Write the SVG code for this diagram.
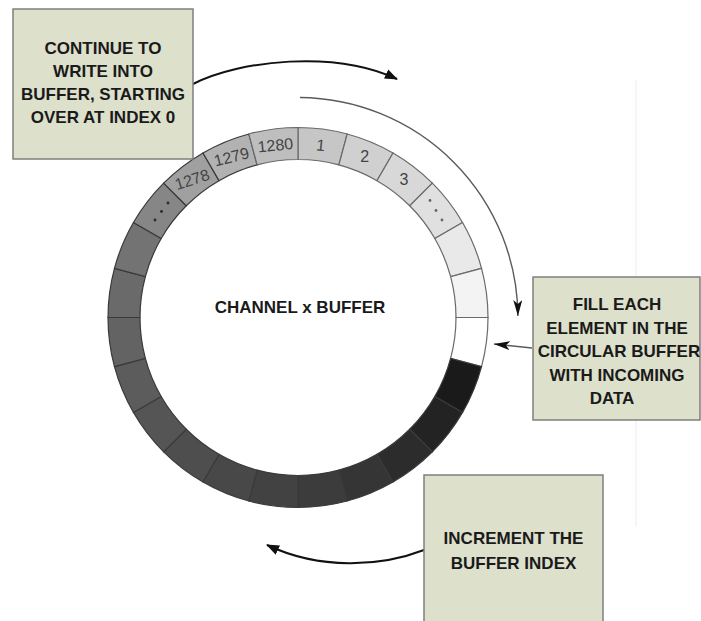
<svg xmlns="http://www.w3.org/2000/svg" width="701" height="621" viewBox="0 0 701 621">
<style>
.box{fill:#dde0cb;stroke:#7f7f7f;stroke-width:1.5}
.lbl{font-family:"Liberation Sans",Arial,sans-serif;font-weight:bold;font-size:17px;fill:#1a1a1a;text-anchor:middle}
.num{font-family:"Liberation Sans",Arial,sans-serif;font-size:16px;fill:#444;text-anchor:middle}
.seg{stroke:#3a3a3a;stroke-width:1.2}
.segl{stroke:#6a6a6a;stroke-width:1.2}
.blk{fill:none;stroke:#111;stroke-width:2}
.gry{fill:none;stroke:#5a5a5a;stroke-width:1.4}
</style>
<defs>
<marker id="tri" markerUnits="userSpaceOnUse" markerWidth="14" markerHeight="12" refX="12" refY="5" orient="auto">
<path d="M0,0 L13,5 L0,10 Z" fill="#111"/>
</marker>
<marker id="stealth" markerUnits="userSpaceOnUse" markerWidth="18" markerHeight="10" refX="16" refY="4.5" orient="auto">
<path d="M0,0 L16,4.5 L0,9 L4,4.5 Z" fill="#111"/>
</marker>
</defs>
<rect width="701" height="621" fill="#fff"/>
<line x1="636" y1="80" x2="636" y2="527" stroke="#ececec" stroke-width="1"/>

<g id="ring">
<path class="segl" fill="#c6c6c6" d="M298,127.5 A190,190 0 0 1 347.18,133.97 L338.89,164.88 A158,158 0 0 0 298,159.5 Z"/>
<path class="segl" fill="#d0d0d0" d="M347.18,133.97 A190,190 0 0 1 393,152.96 L377,180.67 A158,158 0 0 0 338.89,164.88 Z"/>
<path class="segl" fill="#d8d8d8" d="M393,152.96 A190,190 0 0 1 432.35,183.15 L409.72,205.78 A158,158 0 0 0 377,180.67 Z"/>
<path class="segl" fill="#e0e0e0" d="M432.35,183.15 A190,190 0 0 1 462.54,222.5 L434.83,238.5 A158,158 0 0 0 409.72,205.78 Z"/>
<path class="segl" fill="#e9e9e9" d="M462.54,222.5 A190,190 0 0 1 481.53,268.32 L450.62,276.61 A158,158 0 0 0 434.83,238.5 Z"/>
<path class="segl" fill="#f3f3f3" d="M481.53,268.32 A190,190 0 0 1 488,317.5 L456,317.5 A158,158 0 0 0 450.62,276.61 Z"/>
<path class="segl" fill="#ffffff" d="M488,317.5 A190,190 0 0 1 481.53,366.68 L450.62,358.39 A158,158 0 0 0 456,317.5 Z"/>
<path class="seg" fill="#1a1a1a" d="M481.53,366.68 A190,190 0 0 1 462.54,412.5 L434.83,396.5 A158,158 0 0 0 450.62,358.39 Z"/>
<path class="seg" fill="#232323" d="M462.54,412.5 A190,190 0 0 1 432.35,451.85 L409.72,429.22 A158,158 0 0 0 434.83,396.5 Z"/>
<path class="seg" fill="#2c2c2c" d="M432.35,451.85 A190,190 0 0 1 393,482.04 L377,454.33 A158,158 0 0 0 409.72,429.22 Z"/>
<path class="seg" fill="#353535" d="M393,482.04 A190,190 0 0 1 347.18,501.03 L338.89,470.12 A158,158 0 0 0 377,454.33 Z"/>
<path class="seg" fill="#3c3c3c" d="M347.18,501.03 A190,190 0 0 1 298,507.5 L298,475.5 A158,158 0 0 0 338.89,470.12 Z"/>
<path class="seg" fill="#424242" d="M298,507.5 A190,190 0 0 1 248.82,501.03 L257.11,470.12 A158,158 0 0 0 298,475.5 Z"/>
<path class="seg" fill="#484848" d="M248.82,501.03 A190,190 0 0 1 203,482.04 L219,454.33 A158,158 0 0 0 257.11,470.12 Z"/>
<path class="seg" fill="#4e4e4e" d="M203,482.04 A190,190 0 0 1 163.65,451.85 L186.28,429.22 A158,158 0 0 0 219,454.33 Z"/>
<path class="seg" fill="#555555" d="M163.65,451.85 A190,190 0 0 1 133.46,412.5 L161.17,396.5 A158,158 0 0 0 186.28,429.22 Z"/>
<path class="seg" fill="#5c5c5c" d="M133.46,412.5 A190,190 0 0 1 114.47,366.68 L145.38,358.39 A158,158 0 0 0 161.17,396.5 Z"/>
<path class="seg" fill="#636363" d="M114.47,366.68 A190,190 0 0 1 108,317.5 L140,317.5 A158,158 0 0 0 145.38,358.39 Z"/>
<path class="seg" fill="#6a6a6a" d="M108,317.5 A190,190 0 0 1 114.47,268.32 L145.38,276.61 A158,158 0 0 0 140,317.5 Z"/>
<path class="seg" fill="#737373" d="M114.47,268.32 A190,190 0 0 1 133.46,222.5 L161.17,238.5 A158,158 0 0 0 145.38,276.61 Z"/>
<path class="seg" fill="#868686" d="M133.46,222.5 A190,190 0 0 1 163.65,183.15 L186.28,205.78 A158,158 0 0 0 161.17,238.5 Z"/>
<path class="seg" fill="#a0a0a0" d="M163.65,183.15 A190,190 0 0 1 203,152.96 L219,180.67 A158,158 0 0 0 186.28,205.78 Z"/>
<path class="seg" fill="#b2b2b2" d="M203,152.96 A190,190 0 0 1 248.82,133.97 L257.11,164.88 A158,158 0 0 0 219,180.67 Z"/>
<path class="segl" fill="#bebebe" d="M248.82,133.97 A190,190 0 0 1 298,127.5 L298,159.5 A158,158 0 0 0 257.11,164.88 Z"/>
<text class="num" x="275.3" y="150.7" transform="rotate(-6 275.3 145)">1280</text>
<text class="num" x="320.7" y="150.7" transform="rotate(6 320.7 145)">1</text>
<text class="num" x="364.6" y="162.4">2</text>
<text class="num" x="403.9" y="185.1">3</text>
<text class="num" x="231.4" y="162.4" transform="rotate(-14 231.4 156.7)">1279</text>
<text class="num" x="192.1" y="185.1" transform="rotate(-18 192.1 179.4)">1278</text>
<g fill="#666">
<circle cx="430" cy="200.5" r="1.4"/><circle cx="436" cy="210.5" r="1.4"/><circle cx="442" cy="220" r="1.4"/>
</g>
<g fill="#2a2a2a">
<circle cx="168" cy="203" r="1.4"/><circle cx="161.5" cy="211.5" r="1.4"/><circle cx="155" cy="220" r="1.4"/>
</g>
<text class="lbl" x="300" y="313">CHANNEL x BUFFER</text>
</g>

<g id="connectors">
<path class="blk" d="M193,84 C240,60 335,50 397,79" marker-end="url(#tri)"/>
<path class="gry" d="M300,97.5 A220,220 0 0 1 517.9,316" marker-end="url(#stealth)"/>
<path class="gry" d="M532,348 L494,344" marker-end="url(#stealth)"/>
<path class="blk" d="M424,550 C380,567 320,570 267,545" marker-end="url(#tri)"/>
</g>

<g id="box-continue">
<rect class="box" x="13" y="9" width="180" height="150"/>
<text class="lbl" x="103" y="54">CONTINUE TO</text>
<text class="lbl" x="103" y="77">WRITE INTO</text>
<text class="lbl" x="103" y="100">BUFFER, STARTING</text>
<text class="lbl" x="103" y="123">OVER AT INDEX 0</text>
</g>

<g id="box-fill">
<rect class="box" x="533" y="277" width="167" height="143"/>
<text class="lbl" x="617" y="310">FILL EACH</text>
<text class="lbl" x="617" y="333.5">ELEMENT IN THE</text>
<text class="lbl" x="619" y="357">CIRCULAR BUFFER</text>
<text class="lbl" x="617" y="380.5">WITH INCOMING</text>
<text class="lbl" x="612" y="404">DATA</text>
</g>

<g id="box-increment">
<rect class="box" x="424" y="475" width="179" height="160"/>
<text class="lbl" x="513.5" y="543.5">INCREMENT THE</text>
<text class="lbl" x="513.5" y="569">BUFFER INDEX</text>
</g>
</svg>
